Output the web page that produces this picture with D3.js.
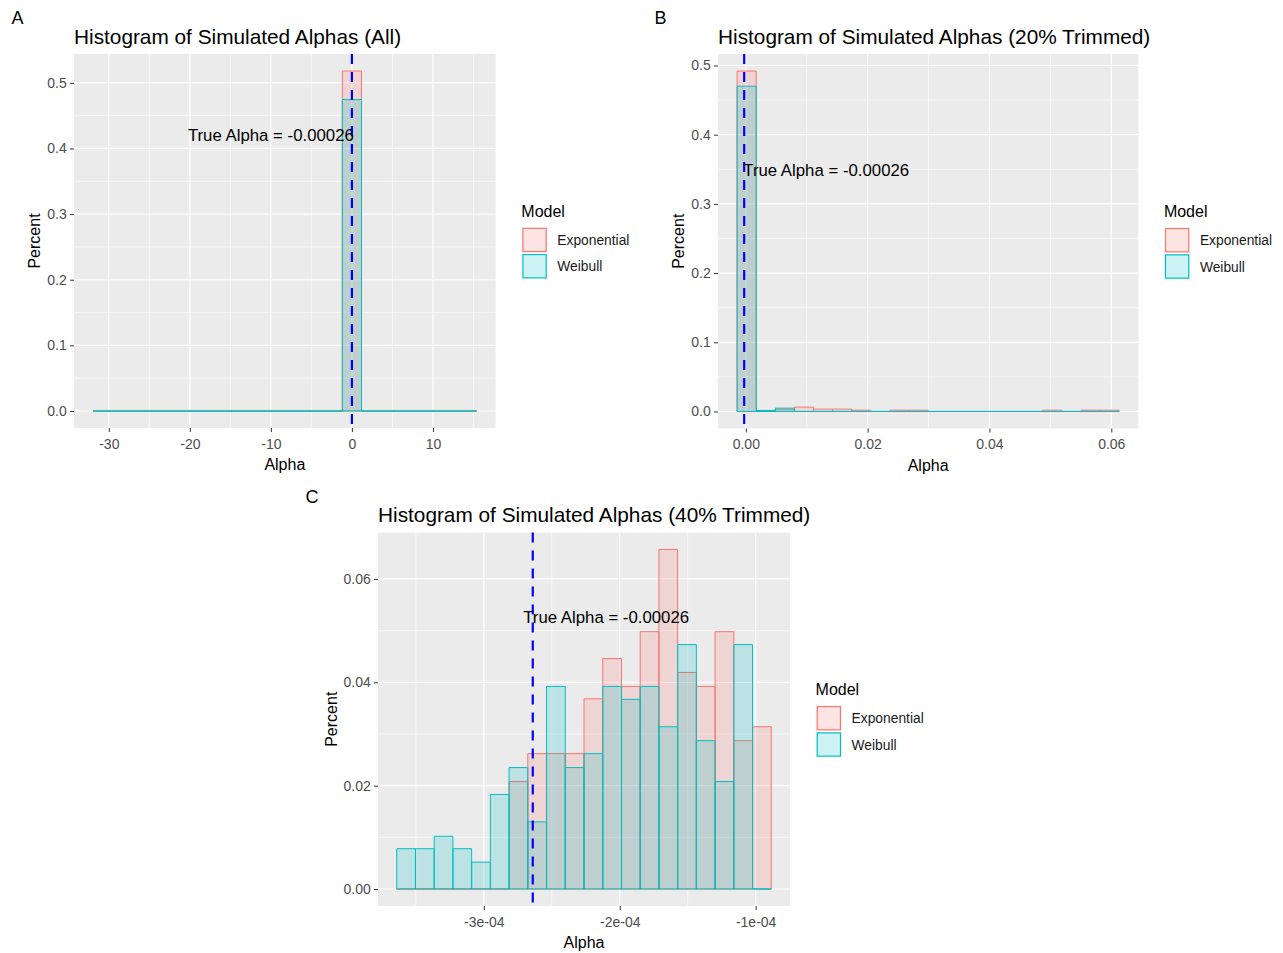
<!DOCTYPE html>
<html>
<head>
<meta charset="utf-8">
<script src="https://cdn.jsdelivr.net/npm/d3@7"></script>
<style>
  body { margin: 0; background: #fff; }
  text { font-family: "Liberation Sans", Arial, sans-serif; }
</style>
</head>
<body>
<div id="root"></div>
<script>
// Data (20 bins per histogram).
const models = ['Exponential', 'Weibull'];
const trueAlpha = -0.000264;
const annotationLabel = 'True Alpha = -0.00026';

// Panel A - all alphas.
const edgesA = [-31.93, 15.38];
const expA  = [0, 0, 0, 0, 0, 0, 0, 0, 0, 0, 0, 0, 0, 0.518, 0, 0, 0, 0, 0, 0];
const weibA = [0, 0, 0, 0, 0, 0, 0, 0, 0, 0, 0, 0, 0, 0.4745, 0, 0, 0, 0, 0, 0];
const xTicksA = [-30, -20, -10, 0, 10];
const xLabelsA = ['-30', '-20', '-10', '0', '10'];
const xMinorA = [-25, -15, -5, 5, 15];
const yTicksA = [0, 0.1, 0.2, 0.3, 0.4, 0.5];
const yLabelsA = ['0.0', '0.1', '0.2', '0.3', '0.4', '0.5'];
const yMinorA = [0.05, 0.15, 0.25, 0.35, 0.45];
const annotA = [-10, 0.42];

// Panel B - 20% trimmed.
const edgesB = [-0.00143, 0.0613];
const expB  = [0.492, 0.001, 0.003, 0.0063, 0.0034, 0.0034, 0.0019, 0, 0.0019, 0.0019, 0, 0, 0, 0, 0, 0, 0.0019, 0, 0.0019, 0.0019];
const weibB = [0.470, 0.0015, 0.0048, 0, 0, 0, 0, 0, 0, 0, 0, 0, 0, 0, 0, 0, 0, 0, 0, 0];
const xTicksB = [0, 0.02, 0.04, 0.06];
const xLabelsB = ['0.00', '0.02', '0.04', '0.06'];
const xMinorB = [0.01, 0.03, 0.05];
const yTicksB = yTicksA;
const yLabelsB = yLabelsA;
const yMinorB = yMinorA;
const annotB = [0.0132, 0.349];

// Panel C - 40% trimmed.
const edgesC = [-0.0003641, -0.0000885];
const expC  = [0, 0, 0, 0, 0, 0, 0.0208, 0.0262, 0.0262, 0.0262, 0.0368, 0.0446, 0.0392, 0.0498, 0.0657, 0.0419, 0.0392, 0.0498, 0.0287, 0.0314];
const weibC = [0.0078, 0.0078, 0.0102, 0.0078, 0.0052, 0.0183, 0.0235, 0.0130, 0.0392, 0.0235, 0.0262, 0.0392, 0.0367, 0.0392, 0.0314, 0.0473, 0.0287, 0.0208, 0.0473, 0];
const xTicksC = [-0.0003, -0.0002, -0.0001];
const xLabelsC = ['-3e-04', '-2e-04', '-1e-04'];
const xMinorC = [-0.00035, -0.00025, -0.00015];
const yTicksC = [0, 0.02, 0.04, 0.06];
const yLabelsC = ['0.00', '0.02', '0.04', '0.06'];
const yMinorC = [0.01, 0.03, 0.05];
const annotC = [-0.00021, 0.0527];

const width = 1283;
const height = 953;
const fills = ['rgba(248,118,109,0.2)', 'rgba(0,191,196,0.2)'];
const strokes = ['#F8766D', '#00BFC4'];

let svg = d3.select('#root')
  .append('svg')
  .attr('width', width)
  .attr('height', height);

svg.append('rect').attr('width', width).attr('height', height).attr('fill', '#fff');

// ggplot adds 5% padding each side.
let expand = (ext) => {
  let d = (ext[1] - ext[0]) * 0.05;
  return [ext[0] - d, ext[1] + d];
};

let drawPanel = (p) => {
  let g = svg.append('g');
  let n = p.exp.length;
  let binW = (p.edges[1] - p.edges[0]) / n;
  let bins = d3.range(n).map(i => ({ x0: p.edges[0] + i * binW, x1: p.edges[0] + (i + 1) * binW }));

  let xScale = d3.scaleLinear().domain(expand(p.edges)).range([p.left, p.right]);
  let yMax = d3.max(p.exp.concat(p.weib));
  let yScale = d3.scaleLinear().domain(expand([0, yMax])).range([p.bottom, p.top]);

  // Panel background and grid.
  g.append('rect')
    .attr('x', p.left).attr('y', p.top)
    .attr('width', p.right - p.left).attr('height', p.bottom - p.top)
    .attr('fill', '#EBEBEB');

  g.selectAll('.vminor').data(p.xMinor).enter().append('line')
    .attr('x1', d => xScale(d)).attr('x2', d => xScale(d))
    .attr('y1', p.top).attr('y2', p.bottom)
    .attr('stroke', '#fff').attr('stroke-width', 0.6);
  g.selectAll('.hminor').data(p.yMinor).enter().append('line')
    .attr('y1', d => yScale(d)).attr('y2', d => yScale(d))
    .attr('x1', p.left).attr('x2', p.right)
    .attr('stroke', '#fff').attr('stroke-width', 0.6);
  g.selectAll('.vmajor').data(p.xTicks).enter().append('line')
    .attr('x1', d => xScale(d)).attr('x2', d => xScale(d))
    .attr('y1', p.top).attr('y2', p.bottom)
    .attr('stroke', '#fff').attr('stroke-width', 1.2);
  g.selectAll('.hmajor').data(p.yTicks).enter().append('line')
    .attr('y1', d => yScale(d)).attr('y2', d => yScale(d))
    .attr('x1', p.left).attr('x2', p.right)
    .attr('stroke', '#fff').attr('stroke-width', 1.2);

  // Bars: exponential first, weibull on top.
  [p.exp, p.weib].forEach((series, k) => {
    g.append('g').selectAll('path')
      .data(bins)
      .enter()
      .append('path')
      .attr('d', (b, i) => `M${xScale(b.x0)},${yScale(0)}V${yScale(series[i])}H${xScale(b.x1)}V${yScale(0)}Z`)
      .attr('fill', fills[k])
      .attr('stroke', strokes[k])
      .attr('stroke-width', 1);
  });

  // True alpha line.
  g.append('line')
    .attr('x1', xScale(trueAlpha)).attr('x2', xScale(trueAlpha))
    .attr('y1', p.top).attr('y2', p.bottom)
    .attr('stroke', '#0000FF').attr('stroke-width', 2.2)
    .attr('stroke-dasharray', '10,8');

  g.append('text')
    .attr('x', xScale(p.annot[0]))
    .attr('y', yScale(p.annot[1]))
    .attr('dy', '0.35em')
    .attr('text-anchor', 'middle')
    .attr('font-size', '16.8px')
    .attr('fill', '#000')
    .text(annotationLabel);

  // Axes.
  let xAxis = d3.axisBottom(xScale)
    .tickValues(p.xTicks)
    .tickFormat((d, i) => p.xLabels[i])
    .tickSize(4).tickPadding(7);
  let yAxis = d3.axisLeft(yScale)
    .tickValues(p.yTicks)
    .tickFormat((d, i) => p.yLabels[i])
    .tickSize(4).tickPadding(3.3);

  let gx = g.append('g').attr('transform', `translate(0, ${p.bottom})`).call(xAxis);
  let gy = g.append('g').attr('transform', `translate(${p.left}, 0)`).call(yAxis);
  [gx, gy].forEach(a => {
    a.select('.domain').remove();
    a.selectAll('line').attr('stroke', '#333').attr('stroke-width', 1);
    a.selectAll('text').attr('fill', '#4D4D4D').attr('font-size', '14px')
      .attr('font-family', '"Liberation Sans", Arial, sans-serif');
  });

  let labW = d3.max(gy.selectAll('text').nodes(), n => n.getBBox().width);

  g.append('text')
    .attr('x', (p.left + p.right) / 2)
    .attr('y', p.bottom + 42)
    .attr('text-anchor', 'middle')
    .attr('font-size', '16px')
    .attr('fill', '#000')
    .text('Alpha');

  let cy = (p.top + p.bottom) / 2;
  g.append('text')
    .attr('transform', `translate(${p.left - labW - 14}, ${cy}) rotate(-90)`)
    .attr('text-anchor', 'middle')
    .attr('font-size', '16px')
    .attr('fill', '#000')
    .text('Percent');

  // Title and panel letter.
  g.append('text')
    .attr('x', p.left).attr('y', p.top - 10.5)
    .attr('font-size', '20.8px').attr('fill', '#000')
    .text(p.title);
  g.append('text')
    .attr('x', p.tagX).attr('y', p.tagY)
    .attr('font-size', '18px').attr('fill', '#000')
    .text(p.tag);

  // Legend.
  let lx = p.right + 26.6;
  g.append('text')
    .attr('x', lx - 1).attr('y', cy - 24)
    .attr('font-size', '16px').attr('fill', '#000')
    .text('Model');
  models.forEach((m, k) => {
    let ky = cy - 13.3 + k * 26.3;
    g.append('rect')
      .attr('x', lx).attr('y', ky)
      .attr('width', 24.5).attr('height', 24.5)
      .attr('fill', '#fff');
    g.append('rect')
      .attr('x', lx + 0.6).attr('y', ky + 0.6)
      .attr('width', 23.3).attr('height', 23.3)
      .attr('fill', fills[k])
      .attr('stroke', strokes[k])
      .attr('stroke-width', 1.2);
    g.append('text')
      .attr('x', lx + 35).attr('y', ky + 12.5)
      .attr('dy', '0.35em')
      .attr('font-size', '13.8px').attr('fill', '#1A1A1A')
      .text(m);
  });
};

drawPanel({
  tag: 'A', tagX: 11.5, tagY: 24, title: 'Histogram of Simulated Alphas (All)',
  left: 74, right: 495.7, top: 54, bottom: 428,
  edges: edgesA, exp: expA, weib: weibA,
  xTicks: xTicksA, xLabels: xLabelsA, xMinor: xMinorA,
  yTicks: yTicksA, yLabels: yLabelsA, yMinor: yMinorA, annot: annotA
});

drawPanel({
  tag: 'B', tagX: 654.5, tagY: 24, title: 'Histogram of Simulated Alphas (20% Trimmed)',
  left: 718, right: 1138.3, top: 54, bottom: 428.5,
  edges: edgesB, exp: expB, weib: weibB,
  xTicks: xTicksB, xLabels: xLabelsB, xMinor: xMinorB,
  yTicks: yTicksB, yLabels: yLabelsB, yMinor: yMinorB, annot: annotB
});

drawPanel({
  tag: 'C', tagX: 305.5, tagY: 503, title: 'Histogram of Simulated Alphas (40% Trimmed)',
  left: 378, right: 790, top: 532.5, bottom: 906,
  edges: edgesC, exp: expC, weib: weibC,
  xTicks: xTicksC, xLabels: xLabelsC, xMinor: xMinorC,
  yTicks: yTicksC, yLabels: yLabelsC, yMinor: yMinorC, annot: annotC
});
</script>
</body>
</html>
